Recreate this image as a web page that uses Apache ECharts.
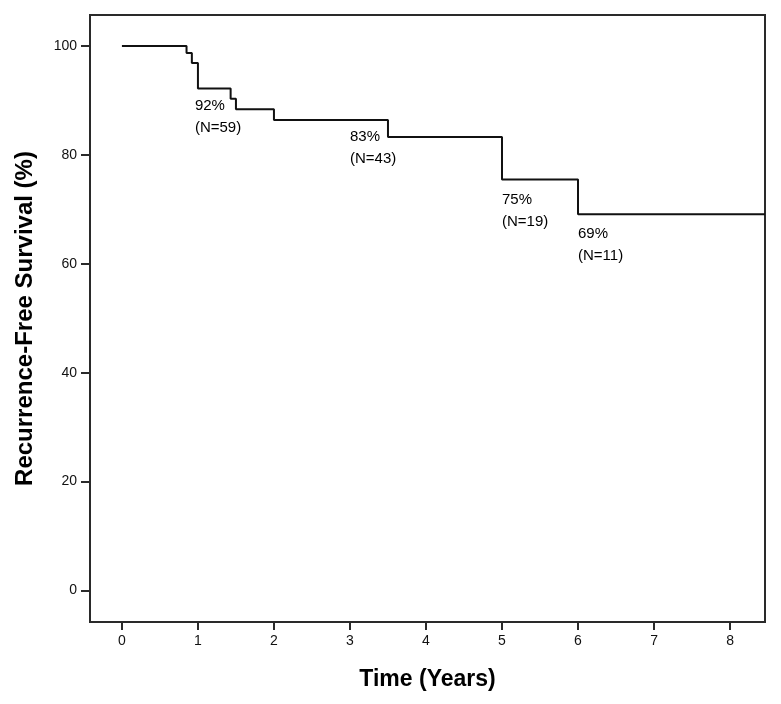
<!DOCTYPE html>
<html>
<head>
<meta charset="utf-8">
<script src="https://cdn.jsdelivr.net/npm/echarts@6/dist/echarts.min.js"></script>
<style>
  html, body { margin: 0; padding: 0; background: #fff; }
  #main { width: 781px; height: 704px; }
</style>
</head>
<body>
<div id="main"></div>
<script>
// Kaplan-Meier step points (years, % recurrence-free)
var times = [0, 0.85, 0.92, 1.0, 1.43, 1.5, 2.0, 3.5, 5.0, 6.0, 8.46];
var survival = [100, 98.7, 96.9, 92.2, 90.3, 88.4, 86.4, 83.3, 75.5, 69.1, 69.1];

// annotation anchors
var noteX = [0.96, 3.0, 5.0, 6.0];
var noteY = [91.0, 85.3, 73.8, 67.5];
var noteText = ['92%\n(N=59)', '83%\n(N=43)', '75%\n(N=19)', '69%\n(N=11)'];

var xTicks = [0, 1, 2, 3, 4, 5, 6, 7, 8];
var yTicks = [0, 20, 40, 60, 80, 100];

var myChart = echarts.init(document.getElementById('main'));

var curve = times.map(function (t, i) { return [t, survival[i]]; });
var notes = noteX.map(function (x, i) { return { value: [x, noteY[i]], name: noteText[i] }; });

var axisCol = '#2a2a2a';

var option = {
    animation: false,
    backgroundColor: '#fff',
    grid: {
        left: 90, right: 16, top: 15, bottom: 82,
        show: true,
        borderColor: axisCol,
        borderWidth: 2
    },
    xAxis: {
        type: 'value',
        min: -0.42,
        max: 8.46,
        name: 'Time (Years)',
        nameLocation: 'middle',
        nameGap: 46,
        nameTextStyle: { fontFamily: 'Liberation Sans', fontWeight: 'bold', fontSize: 23, color: '#000' },
        axisLine: { show: true, onZero: false, lineStyle: { color: axisCol, width: 2 } },
        splitLine: { show: false },
        axisTick: { show: true, length: 8, customValues: xTicks, lineStyle: { color: axisCol, width: 2 } },
        axisLabel: { customValues: xTicks, margin: 12, fontFamily: 'Liberation Sans', fontSize: 14, color: '#111' }
    },
    yAxis: {
        type: 'value',
        min: -5.8,
        max: 105.7,
        name: 'Recurrence-Free Survival (%)',
        nameLocation: 'middle',
        nameGap: 53,
        nameTextStyle: { fontFamily: 'Liberation Sans', fontWeight: 'bold', fontSize: 24, color: '#000' },
        axisLine: { show: true, onZero: false, lineStyle: { color: axisCol, width: 2 } },
        splitLine: { show: false },
        axisTick: { show: true, length: 9, customValues: yTicks, lineStyle: { color: axisCol, width: 2 } },
        axisLabel: { customValues: yTicks, margin: 13, fontFamily: 'Liberation Sans', fontSize: 14, color: '#111' }
    },
    series: [
        {
            type: 'line',
            step: 'end',
            data: curve,
            showSymbol: false,
            lineStyle: { color: '#111', width: 2 },
            clip: true
        },
        {
            type: 'scatter',
            data: notes,
            symbolSize: 0,
            itemStyle: { opacity: 1 },
            label: {
                show: true,
                position: [0, 0],
                align: 'left',
                verticalAlign: 'top',
                formatter: function (p) { return p.name; },
                fontFamily: 'Liberation Sans',
                fontSize: 15,
                lineHeight: 22,
                color: '#000',
                opacity: 1
            }
        }
    ]
};

myChart.setOption(option);
</script>
</body>
</html>
